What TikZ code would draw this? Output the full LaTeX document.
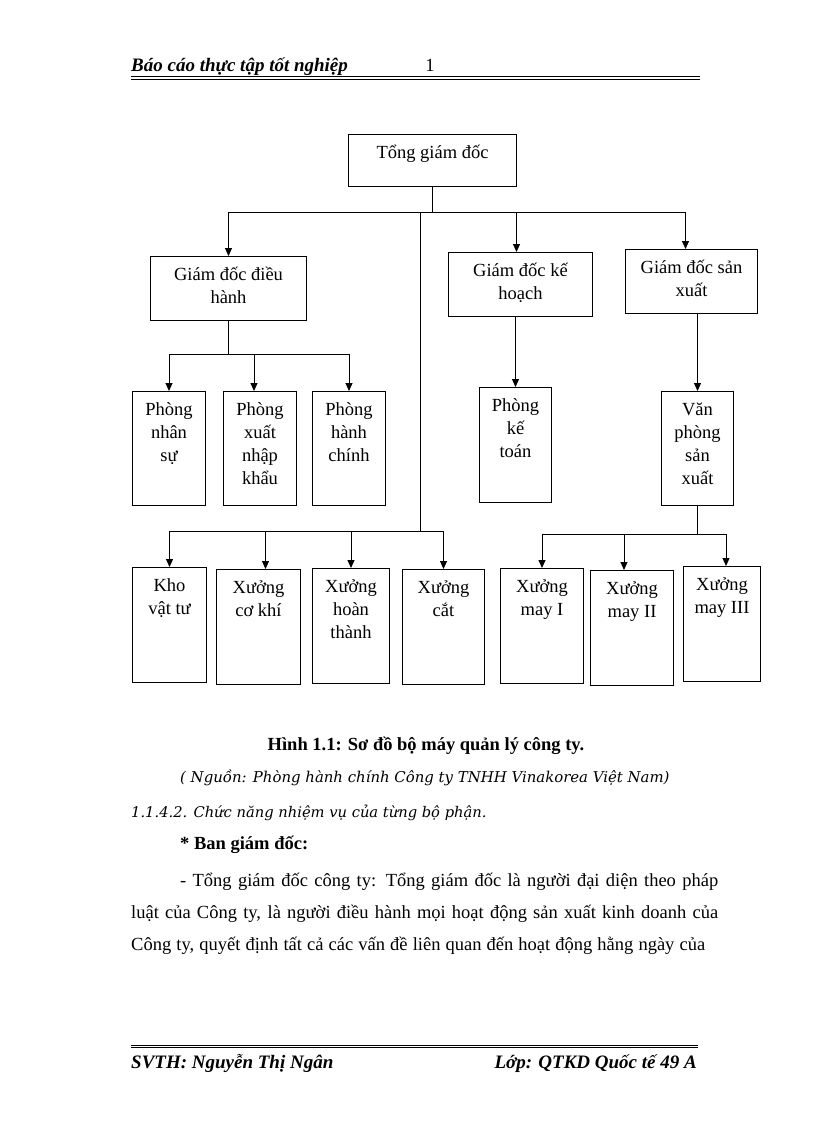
\documentclass[tikz,border=0pt]{standalone}
\usepackage{fontspec}
\setmainfont{Liberation Serif}
\newfontfamily\srcfont{DejaVu Serif}
\usetikzlibrary{arrows.meta}
\tikzset{
	orgbox/.style={draw,line width=1pt,inner sep=0pt,anchor=north west,font=\fontsize{18.5}{23}\selectfont},
	link/.style={line width=1pt},
	arr/.style={line width=1pt,-{Triangle[length=8pt,width=7pt]}},
	body/.style={anchor=base west,inner sep=0pt,font=\fontsize{18.5}{22}\selectfont}
}
\newcommand{\boxtxt}[3]{\parbox[t][#2][t]{#1}{\centering\rule{0pt}{24pt}#3}}
\begin{document}
\begin{tikzpicture}[x=1pt,y=-1pt]
		\useasboundingbox (0,0) rectangle (816,1123);
		\node[body,font=\fontsize{19}{22}\selectfont\bfseries\itshape] (hdr) at (131,72) {Báo cáo thực tập tốt nghiệp};
		\node[body,anchor=base] (pg) at (430,72) {1};
		\draw[line width=1.6pt] (131,76.5) -- (700,76.5);
		\draw[line width=0.6pt] (131,79) -- (700,79);
		\node[orgbox] (tgd) at (348,134) {\boxtxt{168pt}{52pt}{Tổng giám đốc}};
		\node[orgbox] (gddh) at (150,256) {\boxtxt{156pt}{64pt}{Giám đốc điều\\hành}};
		\node[orgbox] (gdkh) at (448,252) {\boxtxt{144pt}{64pt}{Giám đốc kế\\hoạch}};
		\node[orgbox] (gdsx) at (625,249) {\boxtxt{132pt}{64pt}{Giám đốc sản\\xuất}};
		\node[orgbox] (pns) at (132,391) {\boxtxt{73pt}{114pt}{Phòng\\nhân\\sự}};
		\node[orgbox] (pxnk) at (223,391) {\boxtxt{73pt}{114pt}{Phòng\\xuất\\nhập\\khẩu}};
		\node[orgbox] (phc) at (312,391) {\boxtxt{73pt}{114pt}{Phòng\\hành\\chính}};
		\node[orgbox] (pkt) at (479,387) {\boxtxt{72pt}{115pt}{Phòng\\kế\\toán}};
		\node[orgbox] (vpsx) at (661,391) {\boxtxt{72pt}{114pt}{Văn\\phòng\\sản\\xuất}};
		\node[orgbox] (kho) at (132,567) {\boxtxt{74pt}{115pt}{Kho\\vật tư}};
		\node[orgbox] (xck) at (216,569) {\boxtxt{84pt}{115pt}{Xưởng\\cơ khí}};
		\node[orgbox] (xht) at (312,568) {\boxtxt{77pt}{115pt}{Xưởng\\hoàn\\thành}};
		\node[orgbox] (xc) at (402,569) {\boxtxt{82pt}{115pt}{Xưởng\\cắt}};
		\node[orgbox] (xm1) at (500,568) {\boxtxt{83pt}{115pt}{Xưởng\\may I}};
		\node[orgbox] (xm2) at (590,570) {\boxtxt{83pt}{115pt}{Xưởng\\may II}};
		\node[orgbox] (xm3) at (683,566) {\boxtxt{77pt}{115pt}{Xưởng\\may III}};
		\draw[link] (tgd.south) -- ++(0,26) coordinate (j1);
		\draw[arr] (j1) -| (gddh.north);
		\draw[arr] (j1) -| ([xshift=-4pt]gdkh.north);
		\draw[arr] (j1) -| ([xshift=-6pt]gdsx.north);
		\coordinate (j2) at (420,212);
		\coordinate (j3) at (420,531);
		\draw[line width=0.7pt] (j2) -- (j3);
		\draw[arr] (j3) -| (kho.north);
		\draw[arr] (j3) -| ([xshift=7pt]xck.north);
		\draw[arr] (j3) -| (xht.north);
		\draw[arr] (j3) -| (xc.north);
		\draw[link] (gddh.south) -- ++(0,33) coordinate (j4);
		\draw[arr] (j4) -| (pns.north);
		\draw[arr] (j4) -| ([xshift=-6pt]pxnk.north);
		\draw[arr] (j4) -| (phc.north);
		\draw[arr] (gdkh.south -| pkt.north) -- (pkt.north);
		\draw[arr] (gdsx.south -| vpsx.north) -- (vpsx.north);
		\draw[link] (vpsx.south) -- ++(0,28) coordinate (j5);
		\draw[arr] (j5) -| (xm1.north);
		\draw[arr] (j5) -| ([xshift=-8pt]xm2.north);
		\draw[arr] (j5) -| ([xshift=4pt]xm3.north);
		\node[body,anchor=base,font=\fontsize{18.5}{22}\selectfont\bfseries] (cap) at (426,750) {Hình 1.1: Sơ đồ bộ máy quản lý công ty.};
		\node[body,font=\fontsize{14.9}{20}\srcfont\itshape] (src) at (180,782) {( Nguồn: Phòng hành chính Công ty TNHH Vinakorea Việt Nam)};
		\node[body,font=\fontsize{14.7}{20}\srcfont\itshape] (sec) at (131,817) {1.1.4.2. Chức năng nhiệm vụ của từng bộ phận.};
		\node[body,font=\fontsize{18.5}{22}\selectfont\bfseries] (ban) at (180,849) {* Ban giám đốc:};
		\node[body] (l1) at (180,886) {\makebox[538pt][s]{- Tổng giám đốc công ty: Tổng giám đốc là người đại diện theo pháp}};
		\node[body] (l2) at (131,918) {\makebox[587pt][s]{luật của Công ty, là người điều hành mọi hoạt động sản xuất kinh doanh của}};
		\node[body] (l3) at (131,950) {\makebox[574pt][s]{Công ty, quyết định tất cả các vấn đề liên quan đến hoạt động hằng ngày của}};
		\draw[line width=0.6pt] (131,1045) -- (698,1045);
		\draw[line width=1.6pt] (131,1047.5) -- (698,1047.5);
		\node[body,font=\fontsize{19}{22}\selectfont\bfseries\itshape] (svth) at (131,1068) {SVTH: Nguyễn Thị Ngân};
		\node[body,anchor=base east,font=\fontsize{19}{22}\selectfont\bfseries\itshape] (lop) at (697,1068) {Lớp: QTKD Quốc tế 49 A};
	\end{tikzpicture}
\end{document}
